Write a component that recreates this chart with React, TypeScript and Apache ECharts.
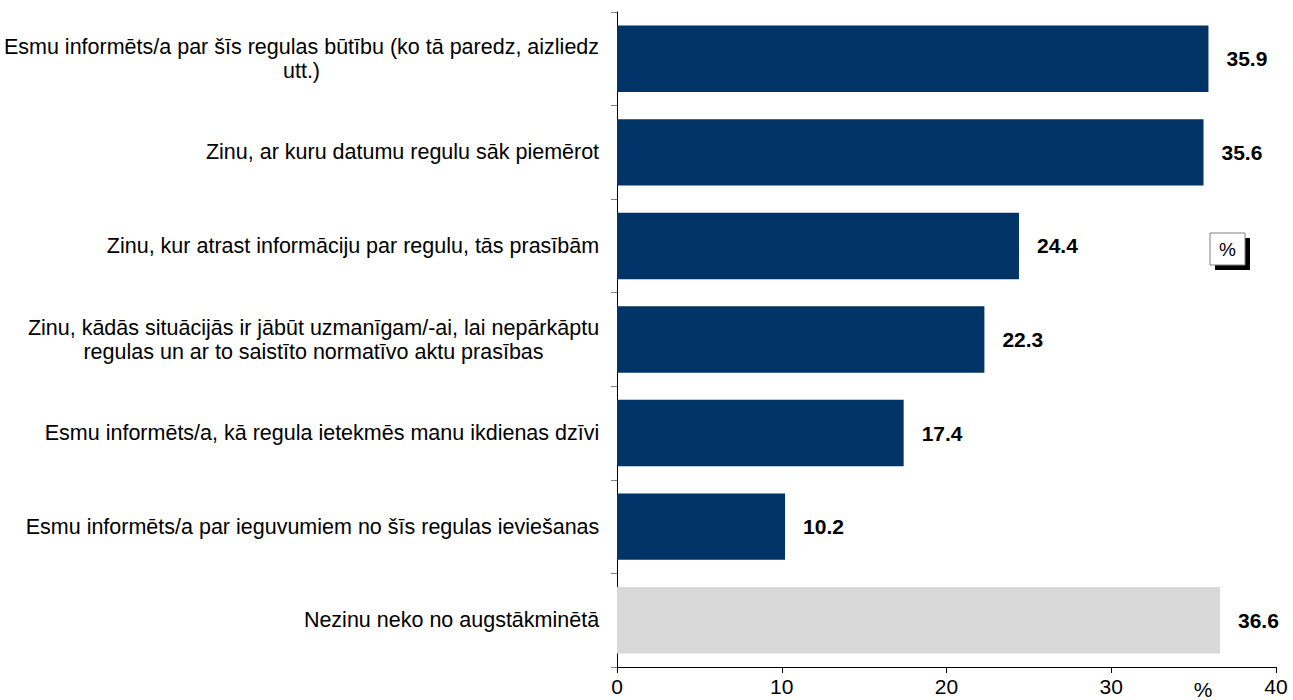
import React, { useEffect, useRef } from "react";
import * as echarts from "echarts";

const categories = [
  "Esmu informēts/a par šīs regulas būtību (ko tā paredz, aizliedz\nutt.)",
  "Zinu, ar kuru datumu regulu sāk piemērot",
  "Zinu, kur atrast informāciju par regulu, tās prasībām",
  "Zinu, kādās situācijās ir jābūt uzmanīgam/-ai, lai nepārkāptu\nregulas un ar to saistīto normatīvo aktu prasības",
  "Esmu informēts/a, kā regula ietekmēs manu ikdienas dzīvi",
  "Esmu informēts/a par ieguvumiem no šīs regulas ieviešanas",
  "Nezinu neko no augstākminētā",
];
const values = [35.9, 35.6, 24.4, 22.3, 17.4, 10.2, 36.6];
const barColors = ["#003366", "#003366", "#003366", "#003366", "#003366", "#003366", "#d9d9d9"];
const xTicks = [0, 10, 20, 30, 40];

export default function App() {
  const ref = useRef<HTMLDivElement>(null);
  useEffect(() => {
    if (!ref.current) return;
    const chart = echarts.init(ref.current, undefined, { renderer: "svg" });
    const font = "Liberation Sans, Arial, sans-serif";
    const catSize = 21.5;
    const ctx = document.createElement("canvas").getContext("2d");
    if (ctx) ctx.font = `${catSize}px ${font}`;
    const rich: Record<string, any> = {};
    categories.forEach((c, i) => {
      const lines = c.split("\n");
      const w = Math.max(...lines.map((l) => (ctx ? ctx.measureText(l).width : l.length * 10)));
      rich["c" + i] = {
        width: Math.ceil(w) + 1,
        align: "center",
        fontFamily: font,
        fontSize: catSize,
        color: "#000000",
        lineHeight: 24,
      };
    });
    chart.setOption({
      animation: false,
      backgroundColor: "#ffffff",
      grid: { left: 617, right: 17, top: 12, bottom: 33, containLabel: false },
      xAxis: {
        type: "value",
        min: xTicks[0],
        max: xTicks[xTicks.length - 1],
        interval: 10,
        splitLine: { show: false },
        axisLine: { show: true, lineStyle: { color: "#000000", width: 1 } },
        axisTick: { show: true, length: 6, lineStyle: { color: "#000000" } },
        axisLabel: { fontFamily: font, fontSize: 21, color: "#000000", margin: 9 },
      },
      yAxis: {
        type: "category",
        data: categories,
        inverse: true,
        axisLine: { show: true, lineStyle: { color: "#000000", width: 1 } },
        axisTick: { show: true, length: 6, lineStyle: { color: "#808080" } },
        axisLabel: {
          fontFamily: font,
          fontSize: catSize,
          color: "#000000",
          align: "right",
          lineHeight: 24,
          margin: 17,
          rich,
          formatter: (v: string, i: number) =>
            v
              .split("\n")
              .map((l) => `{c${i}|${l}}`)
              .join("\n"),
        },
      },
      series: [
        {
          type: "bar",
          data: values.map((v, i) => ({ value: v, itemStyle: { color: barColors[i] } })),
          barCategoryGap: "29%",
          label: {
            show: true,
            position: "right",
            distance: 18,
            fontFamily: font,
            fontSize: 21,
            fontWeight: "bold",
            color: "#000000",
            formatter: (p: any) => p.value.toFixed(1),
          },
        },
      ],
      graphic: [
        { type: "rect", shape: { x: 1215, y: 238, width: 35, height: 32 }, style: { fill: "#000000" } },
        {
          type: "rect",
          shape: { x: 1210, y: 233, width: 35, height: 32 },
          style: { fill: "#ffffff", stroke: "#808080", lineWidth: 1 },
        },
        {
          type: "text",
          x: 1227.5,
          y: 249,
          style: { text: "%", fontFamily: font, fontSize: 19, fill: "#000000", align: "center", verticalAlign: "middle" },
        },
        {
          type: "text",
          x: 1203,
          y: 689,
          style: { text: "%", fontFamily: font, fontSize: 21, fill: "#000000", align: "center", verticalAlign: "middle" },
        },
      ],
    });
    return () => chart.dispose();
  }, []);
  return (
    <div
      ref={ref}
      style={{ position: "fixed", left: 0, top: 0, width: 1293, height: 700, background: "#ffffff" }}
    />
  );
}
